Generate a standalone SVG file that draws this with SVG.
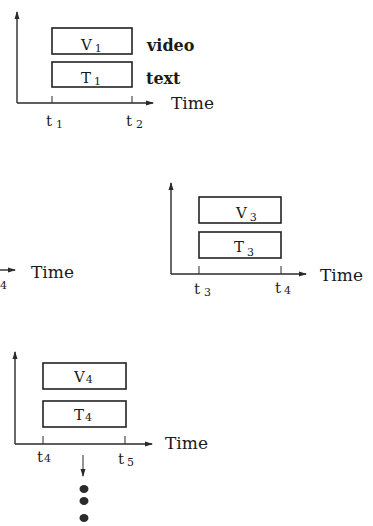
<svg xmlns="http://www.w3.org/2000/svg" width="373" height="526" viewBox="0 0 373 526">
<style>
.ax{stroke:#2a2a2a;stroke-width:1.4;fill:none}
.tk{stroke:#2a2a2a;stroke-width:1;fill:none}
.bx{stroke:#222;stroke-width:1.6;fill:#fff}
text{font-family:"DejaVu Serif","Liberation Serif",serif;fill:#1a1a1a}
.lb{font-size:15px}
.sb{font-size:11px}
.tm{font-size:17px}
.wd{font-size:16px;font-weight:bold}
.tt{font-size:15px}
</style>
<defs>
<marker id="ah" markerWidth="8" markerHeight="6" refX="7" refY="3" orient="auto" markerUnits="userSpaceOnUse">
<path d="M0,0.5 L8,3 L0,5.5 z" fill="#2a2a2a"/>
</marker>
</defs>
<rect width="373" height="526" fill="#fff"/>
<g id="connectors">
<path class="ax" d="M17,103 V12" marker-end="url(#ah)"/>
<path class="ax" d="M17,103 H153" marker-end="url(#ah)"/>
<path class="tk" d="M52,96 V103 M132,96 V103"/>
<path class="ax" d="M0,270 H15" marker-end="url(#ah)"/>
<path class="ax" d="M171,274 V183" marker-end="url(#ah)"/>
<path class="ax" d="M171,274 H306" marker-end="url(#ah)"/>
<path class="tk" d="M199,266 V274 M281,266 V274"/>
<path class="ax" d="M15,444 V352" marker-end="url(#ah)"/>
<path class="ax" d="M15,444 H152" marker-end="url(#ah)"/>
<path class="tk" d="M43,436 V444 M125,436 V444"/>
<path class="tk" d="M83,455 V476" marker-end="url(#ah)"/>
</g>
<g id="V1"><rect class="bx" x="52" y="28" width="80" height="26"/><text class="lb" x="81" y="50">V<tspan class="sb" dx="3" dy="2">1</tspan></text></g>
<g id="T1"><rect class="bx" x="52" y="62" width="80" height="25"/><text class="lb" x="81" y="83">T<tspan class="sb" dx="3" dy="2">1</tspan></text></g>
<g id="labels1">
<text class="wd" x="147" y="51">video</text>
<text class="wd" x="146" y="84">text</text>
<text class="tm" x="171" y="109">Time</text>
<text class="tt" x="46" y="126">t<tspan class="sb" dx="4" dy="2">1</tspan></text>
<text class="tt" x="126" y="126">t<tspan class="sb" dx="4" dy="2">2</tspan></text>
</g>
<g id="panel2">
<text class="tm" x="31" y="278">Time</text>
<text class="sb" x="0" y="289">4</text>
</g>
<g id="V3"><rect class="bx" x="199" y="197" width="82" height="26"/><text class="lb" x="236" y="218">V<tspan class="sb" dx="3" dy="3">3</tspan></text></g>
<g id="T3"><rect class="bx" x="199" y="232" width="82" height="26"/><text class="lb" x="234" y="252">T<tspan class="sb" dx="3" dy="4">3</tspan></text></g>
<g id="labels3">
<text class="tm" x="320" y="281">Time</text>
<text class="tt" x="194" y="294">t<tspan class="sb" dx="4" dy="2">3</tspan></text>
<text class="tt" x="275" y="293">t<tspan class="sb" dx="3" dy="1">4</tspan></text>
</g>
<g id="V4"><rect class="bx" x="43" y="363" width="83" height="26"/><text class="lb" x="74" y="382">V<tspan class="sb" dx="1" dy="1">4</tspan></text></g>
<g id="T4"><rect class="bx" x="43" y="401" width="83" height="26"/><text class="lb" x="74" y="420">T<tspan class="sb" dx="1" dy="1">4</tspan></text></g>
<g id="labels4">
<text class="tm" x="165" y="449">Time</text>
<text class="tt" x="37" y="462">t<tspan class="sb" dx="1" dy="0">4</tspan></text>
<text class="tt" x="118" y="464">t<tspan class="sb" dx="3" dy="2">5</tspan></text>
</g>
<g id="dots" fill="#2a2a2a">
<ellipse cx="84" cy="489" rx="4.5" ry="4"/>
<ellipse cx="84" cy="501" rx="4.5" ry="4"/>
<ellipse cx="84" cy="518" rx="4.5" ry="4"/>
</g>
</svg>
